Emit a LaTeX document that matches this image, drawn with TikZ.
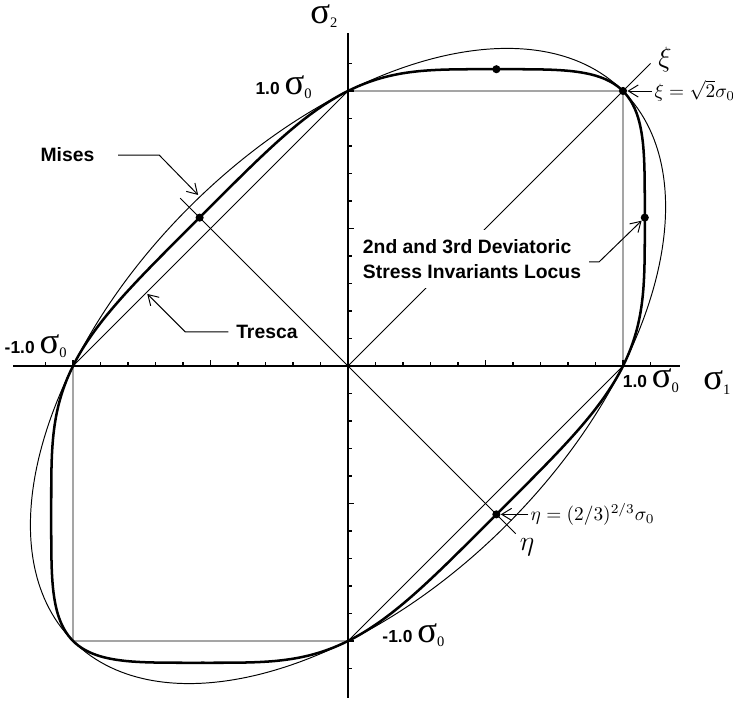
\documentclass[tikz,border=0pt]{standalone}
\usepackage{fontspec}
\setmainfont{Liberation Serif}
\newfontfamily\arl{Liberation Sans}
\newfontfamily\tnr{Liberation Serif}
\usetikzlibrary{arrows.meta,positioning}

% upright sigma with a small subscript, as on the axes
\newcommand{\sgsub}[1]{{\tnr\mdseries\fontsize{19}{19}\selectfont σ}\raisebox{-2.5pt}{\tnr\mdseries\fontsize{7.5}{7.5}\selectfont #1}}

\begin{document}
\begin{tikzpicture}[
  x=5cm,y=5cm,
  edge/.style={line width=0.5pt},
  locus/.style={line width=1.3pt,line join=round},
  axis/.style={line width=0.9pt},
  ar/.style={-{Straight Barb[length=1.8mm,width=2.2mm]},line width=0.5pt},
  dot/.style={circle,fill=black,inner sep=0pt,minimum size=4.2pt},
  tag/.style={font=\arl\bfseries\fontsize{10}{13}\selectfont},
  val/.style={font=\arl\bfseries\fontsize{9}{11}\selectfont,inner sep=0pt},
  greek/.style={font=\fontsize{14}{14}\selectfont,inner sep=0pt},
  declare function={
    lA(\t)=1-cos(\t)*sin(\t);
    lB(\t)=(2*cos(\t)-sin(\t))*(2*sin(\t)-cos(\t))*(cos(\t)+sin(\t));
    lr(\t)=(8/(12*lA(\t)^3-lB(\t)^2))^(1/6);
  }
]
\useasboundingbox (-1.2655,-1.2218) rectangle (1.4,1.3309);

%%%%%%%%%%%%%%%%%%%%%% axes and ticks %%%%%%%%%%%%%%%%%%%%%%%%%%%%%%%%%%%%%
\coordinate (O) at (0,0);
\draw[axis] (-1.218,0) -- (1.207,0);
\draw[axis] (0,-1.207) -- (0,1.21);
\foreach \k in {-11,...,-1,1,2,...,11}{
  \draw[axis] (\k/10,0) -- ++(0,2pt);
  \draw[axis] (0,\k/10) -- ++(2pt,0);
}
\foreach \k in {-10,-5,5,10}{
  \draw[axis] (\k/10,0) -- ++(0,3pt);
  \draw[axis] (0,\k/10) -- ++(3pt,0);
}

\node[inner sep=0pt,text height=9pt,text depth=4pt,anchor=base west] (s2lbl) at (-0.138,1.247) {\sgsub{2}};
\node[inner sep=0pt,text height=9pt,text depth=4pt,anchor=base west] (s1lbl) at (1.291,-0.087) {\sgsub{1}};

\node[val,anchor=base east] (vtop)   at (-0.131,0.989)  {1.0 \sgsub{0}};
\node[val,anchor=base east] (vleft)  at (-1.022,0.047)  {-1.0 \sgsub{0}};
\node[val,anchor=base west] (vright) at (0.998,-0.080)  {1.0 \sgsub{0}};
\node[val,anchor=base west] (vbot)   at (0.124,-1.004)  {-1.0 \sgsub{0}};

%%%%%%%%%%%%%%%%%%%%%% Tresca, Mises and the invariants locus %%%%%%%%%%%%%%
\draw[edge] (1,0) -- (1,1) -- (0,1) -- (-1,0) -- (-1,-1) -- (0,-1) -- cycle;
\draw[edge,rotate=45] (O) ellipse [x radius=1.41421,y radius=0.81650];
\draw[locus] plot[domain=0:359,samples=360,smooth cycle]
      ({lr(\x)*cos(\x)},{lr(\x)*sin(\x)});

%%%%%%%%%%%%%%%%%%%%%% xi and eta directions %%%%%%%%%%%%%%%%%%%%%%%%%%%%%%
\draw[edge] (O) -- (1.1,1.1);
\draw[edge] (-0.61,0.61) -- (0.61,-0.61);
\node[greek] (xilet)  at (1.153,1.113)  {$\xi$};
\node[greek] (etalet) at (0.651,-0.658) {$\eta$};

\node[dot] (dA) at (1,1) {};
\node[dot] (dB) at (0.5396,1.0792) {};
\node[dot] (dC) at (1.0792,0.5396) {};
\node[dot] (dD) at (-0.5396,0.5396) {};
\node[dot] (dE) at (0.5396,-0.5396) {};

\node[right=4.5mm of dA,inner sep=1pt] (xilbl) {$\xi=\sqrt{2}\sigma_0$};
\node[right=5mm of dE,inner sep=1pt] (etalbl) {$\eta=(2/3)^{2/3}\sigma_0$};
\draw[ar] (xilbl.west) -- (dA);
\draw[ar] (etalbl.west) -- (dE);

%%%%%%%%%%%%%%%%%%%%%% labels with leaders %%%%%%%%%%%%%%%%%%%%%%%%%%%%%%%
\coordinate (misespt)   at (-0.545,0.622);
\coordinate (trescapt)  at (-0.730,0.262);
\node[tag] (miseslbl)  at (-1.02,0.767)  {Mises};
\node[tag] (trescalbl) at (-0.295,0.124) {Tresca};
\node[tag,fill=white,align=left,inner xsep=3pt,inner ysep=5pt] (loclbl)
      at (0.451,0.389) {2nd and 3rd Deviatoric\\Stress Invariants Locus};

\draw[ar] ([xshift=8.8pt]miseslbl.east) -- ++(0.149,0) -- (misespt);
\draw[ar] ([xshift=-0.5pt]trescalbl.west) -- ++(-0.157,0) -- (trescapt);
\draw[ar] ([xshift=1pt,yshift=-1.5pt]loclbl.east) -- ++(0.036,0) -- (dC);
\end{tikzpicture}
\end{document}
